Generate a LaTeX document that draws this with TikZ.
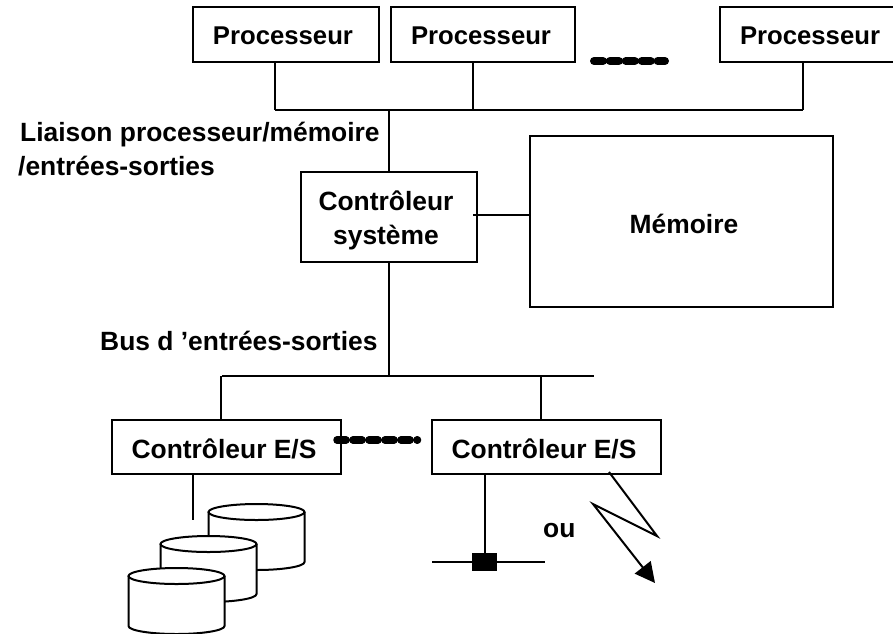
\documentclass[tikz,border=0pt]{standalone}
\usepackage{fontspec}
\setmainfont{Liberation Sans}
\usetikzlibrary{arrows.meta}
\usetikzlibrary{calc}
\tikzset{
  line/.style = {draw, line width = 2pt},
  box/.style = {
    line, fill = white,
    minimum width = #1,
    minimum height = 54.5pt,
    inner sep = 0,
  },
  label/.style = {
    anchor = base west,
    inner sep = 0,
    font = \fontsize{26.4}{28}\bfseries,
  },
  blobs/.style = {
    line width = #1, line cap = round,
  },
  pics/disk/.style = {
    code = {
      \draw[line, fill = white]
        (-48,0) -- ++(0,50) arc [start angle = 180, end angle = 360,
          x radius = 48pt, y radius = 8pt] -- ++(0,-50);
      \draw[line, fill = white] (0,0) ellipse [x radius = 48pt, y radius = 8pt];
    },
  },
}
\begin{document}
\begin{tikzpicture}[x = 1pt, y = -1pt]
  \useasboundingbox (0,0) rectangle (893,633);

  % Processors
  \node[box = 186pt] (proc-1) at (286,34.5) {};
  \node[box = 184pt] (proc-2) at (483,34.5) {};
  \node[box = 174pt] (proc-3) at (807,34.5) {};
  \foreach \x/\i in {283/1,481/2,810/3}
    \node[label, anchor = base, font = \fontsize{25.7}{28}\bfseries]
      (proc-text-\i) at (\x,44) {Processeur};
  \draw[blobs = 8pt, dash pattern = on 9pt off 6.9pt] (594,61) -- (665,61);

  % Processor bus
  \coordinate (bus-1) at (274.5,110);
  \coordinate (bus-2) at (472.5,110);
  \coordinate (bus-3) at (803,110);
  \coordinate (bus-t) at (389,110);
  \foreach \i in {1,2,3}
    \draw[line] (proc-\i.south -| bus-\i) -- (bus-\i);
  \draw[line] (bus-1) -- (bus-3);

  \node[label] (link-1) at (20,141) {Liaison processeur/mémoire};
  \node[label] (link-2) at (18,175) {/entrées-sorties};

  % System controller and memory
  \node[box = 176pt, minimum height = 90pt] (ctrl) at (389,217) {};
  \node[box = 303pt, minimum height = 171pt] (mem) at (681,221.5) {};
  \node[label, anchor = base] (ctrl-text-1) at (386,210) {Contrôleur};
  \node[label, anchor = base] (ctrl-text-2) at (386,244) {système};
  \node[label, anchor = base] (mem-text) at (684,233) {Mémoire};
  \coordinate (ctrl-in) at (473,215);
  \draw[line] (bus-t) -- (bus-t |- ctrl.north);
  \draw[line] (ctrl-in) -- (ctrl-in -| mem.west);

  % I/O bus
  \coordinate (io-w) at (222,376);
  \coordinate (io-e) at (594,376);
  \coordinate (io-t) at (389,376);
  \coordinate (io-1) at (221,376);
  \coordinate (io-2) at (541,376);
  \node[label] (io-label) at (100,350) {Bus d ’entrées-sorties};
  \draw[line] (ctrl.south) -- (io-t);
  \draw[line] (io-w) -- (io-e);

  % I/O controllers
  \node[box = 229pt] (es-1) at (226.5,447) {};
  \node[box = 229pt] (es-2) at (546.5,447) {};
  \foreach \x/\i in {224/1,544/2}
    \node[label, anchor = base] (es-text-\i) at (\x,458) {Contrôleur E/S};
  \draw[line] (io-1) -- (io-1 |- es-1.north);
  \draw[line] (io-2) -- (io-2 |- es-2.north);
  \draw[blobs = 7.5pt, dash pattern = on 9pt off 7pt] (337,440) -- (417.5,440);

  % Disks
  \coordinate (disk-in) at (192.5,520);
  \draw[line] (disk-in |- es-1.south) -- (disk-in);
  \foreach \x/\y/\i in {256.5/512/1,208.5/544/2,176.5/576/3}
    \pic (disk-\i) at (\x,\y) {disk};

  % Network
  \coordinate (net-w) at (432,562);
  \coordinate (net-e) at (545,562);
  \node[fill = black, minimum width = 25pt, minimum height = 18pt, inner sep = 0]
    (tap) at (484.5,562) {};
  \draw[line] (net-w) -- (tap) -- (net-e);
  \draw[line] (tap) -- (tap |- es-2.south);

  \node[label] (or) at (543,537) {ou};

  % Radio link
  \coordinate (zig-1) at (609,472);
  \coordinate (zig-2) at (657,536);
  \coordinate (zig-3) at (593,504);
  \coordinate (zig-4) at (655,583);
  \draw[line, -{Triangle[length = 20pt, width = 20pt]}]
    (zig-1) -- (zig-2) -- (zig-3) -- (zig-4);
\end{tikzpicture}
\end{document}
